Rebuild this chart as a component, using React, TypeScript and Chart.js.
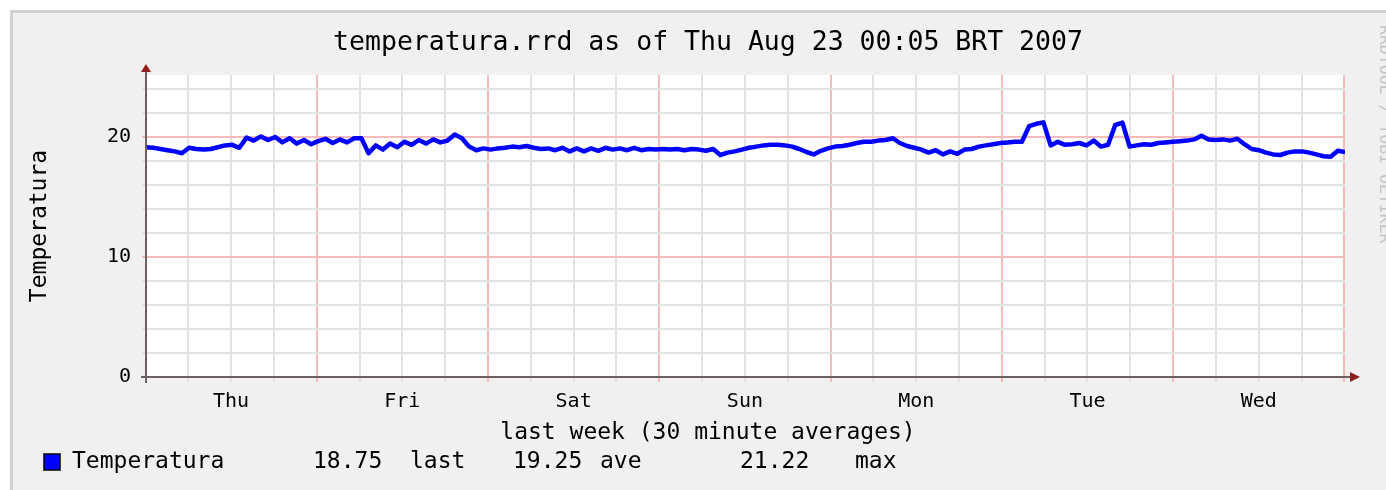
import React, { useEffect, useRef } from 'react';
import { Chart, registerables } from 'chart.js';

Chart.register(...registerables);

const TITLE = 'temperatura.rrd as of Thu Aug 23 00:05 BRT 2007';
const X_TITLE = 'last week (30 minute averages)';
const Y_TITLE = 'Temperatura';
const WATERMARK = 'RRDTOOL / TOBI OETIKER';

const dayLabels = ['Thu', 'Fri', 'Sat', 'Sun', 'Mon', 'Tue', 'Wed'];
const xTickHours = [6, 12, 18, 24, 30, 36, 42, 48, 54, 60, 66, 72, 78, 84, 90, 96, 102, 108, 114, 120, 126, 132, 138, 144, 150, 156, 162, 168];
const yTickValues = [0, 2, 4, 6, 8, 10, 12, 14, 16, 18, 20, 22, 24];
const yLabelValues = [0, 10, 20];

// hourly temperature readings, Thu 00:05 -> Thu 00:05 (one week)
const temperatura = [
  // Thu
  19.15, 19.1, 19.0, 18.9, 18.8, 18.65, 19.1, 19.0, 18.95, 19.0, 19.15, 19.3,
  19.35, 19.1, 19.95, 19.7, 20.05, 19.75, 20.0, 19.55, 19.9, 19.45, 19.75, 19.4,
  // Fri
  19.65, 19.85, 19.5, 19.8, 19.55, 19.9, 19.9, 18.65, 19.3, 18.95, 19.45, 19.15,
  19.6, 19.35, 19.75, 19.45, 19.8, 19.55, 19.7, 20.2, 19.9, 19.2, 18.9, 19.05,
  // Sat
  18.95, 19.05, 19.1, 19.2, 19.15, 19.25, 19.1, 19.0, 19.05, 18.9, 19.1, 18.8,
  19.05, 18.8, 19.05, 18.85, 19.1, 18.95, 19.05, 18.9, 19.1, 18.9, 19.0, 18.95,
  // Sun
  19.0, 18.95, 19.0, 18.9, 19.0, 18.95, 18.85, 19.0, 18.5, 18.7, 18.8, 18.95,
  19.1, 19.2, 19.3, 19.35, 19.35, 19.3, 19.2, 19.0, 18.75, 18.55, 18.85, 19.05,
  // Mon
  19.2, 19.25, 19.35, 19.5, 19.6, 19.6, 19.7, 19.75, 19.9, 19.5, 19.25, 19.1,
  18.95, 18.7, 18.9, 18.55, 18.8, 18.6, 18.95, 19.0, 19.2, 19.3, 19.4, 19.5,
  // Tue
  19.55, 19.6, 19.6, 20.9, 21.1, 21.22, 19.3, 19.6, 19.35, 19.4, 19.5, 19.3,
  19.7, 19.2, 19.35, 21.0, 21.2, 19.2, 19.3, 19.4, 19.35, 19.5, 19.55, 19.6,
  // Wed
  19.65, 19.7, 19.8, 20.1, 19.8, 19.75, 19.8, 19.7, 19.85, 19.4, 19.0, 18.9,
  18.7, 18.55, 18.5, 18.7, 18.8, 18.8, 18.7, 18.55, 18.4, 18.35, 18.85, 18.75,
];

const legendName = 'Temperatura';
const legendValues = ['18.75', '19.25', '21.22'];
const legendKinds = ['last', 'ave', 'max'];

const START_HOUR = 5 / 60;
const END_HOUR = 168 + 5 / 60;

const MONO = '"DejaVu Sans Mono", monospace';
const W = 1386;
const H = 490;

const GRID_GRAY = '#E2E2E2';
const GRID_RED = '#F4BBBB';
const AXIS = '#6C6060';
const ARROW = '#8E1E1E';

const decor = {
  id: 'rrdDecor',
  beforeDraw(chart: any) {
    const { ctx, chartArea: ca } = chart;
    ctx.save();
    ctx.fillStyle = '#FFFFFF';
    ctx.fillRect(0, 0, W, H);
    ctx.fillStyle = '#D0D0D0';
    ctx.fillRect(10, 10, W - 10, H - 10);
    ctx.fillStyle = '#F0F0F0';
    ctx.fillRect(13, 13, W - 13, H - 13);
    ctx.fillStyle = '#FFFFFF';
    ctx.fillRect(ca.left, ca.top, ca.right - ca.left, ca.bottom - ca.top);
    ctx.restore();
  },
  afterDraw(chart: any) {
    const { ctx, chartArea: ca } = chart;
    ctx.save();
    // axes
    ctx.strokeStyle = AXIS;
    ctx.lineWidth = 2;
    ctx.beginPath();
    ctx.moveTo(ca.left, ca.bottom + 6);
    ctx.lineTo(ca.left, ca.top - 4);
    ctx.moveTo(ca.left - 5, ca.bottom);
    ctx.lineTo(ca.right + 7, ca.bottom);
    ctx.stroke();
    // arrows
    ctx.fillStyle = ARROW;
    ctx.beginPath();
    ctx.moveTo(ca.left, ca.top - 11);
    ctx.lineTo(ca.left - 5, ca.top - 3);
    ctx.lineTo(ca.left + 5, ca.top - 3);
    ctx.closePath();
    ctx.fill();
    ctx.beginPath();
    ctx.moveTo(ca.right + 15, ca.bottom);
    ctx.lineTo(ca.right + 5, ca.bottom - 5);
    ctx.lineTo(ca.right + 5, ca.bottom + 5);
    ctx.closePath();
    ctx.fill();

    // legend
    const ly = 462;
    ctx.fillStyle = '#0000FF';
    ctx.fillRect(44, 454, 16, 16);
    ctx.strokeStyle = '#000000';
    ctx.lineWidth = 1.5;
    ctx.strokeRect(44, 454, 16, 16);
    ctx.fillStyle = '#000000';
    ctx.font = `23px ${MONO}`;
    ctx.textBaseline = 'middle';
    ctx.textAlign = 'left';
    ctx.fillText(legendName, 72, ly);
    const valX = [313, 513, 740];
    const kindX = [410, 600, 855];
    legendValues.forEach((v, i) => ctx.fillText(v, valX[i], ly));
    legendKinds.forEach((k, i) => ctx.fillText(k, kindX[i], ly));

    // watermark
    ctx.translate(1384, 25);
    ctx.rotate(Math.PI / 2);
    ctx.fillStyle = '#C4C4C4';
    ctx.font = `16.5px ${MONO}`;
    ctx.textBaseline = 'middle';
    ctx.fillText(WATERMARK, 0, 0);
    ctx.restore();
  },
};

export default function App() {
  const ref = useRef<HTMLCanvasElement | null>(null);

  useEffect(() => {
    const canvas = ref.current;
    if (!canvas) return;
    const step = (END_HOUR - START_HOUR) / (temperatura.length - 1);
    const points = temperatura.map((v, i) => ({ x: START_HOUR + i * step, y: v }));

    const chart = new Chart(canvas, {
      type: 'line',
      data: {
        datasets: [
          {
            label: legendName,
            data: points,
            borderColor: '#0000FF',
            backgroundColor: '#0000FF',
            borderWidth: 4.5,
            pointRadius: 0,
            tension: 0,
            fill: false,
            borderJoinStyle: 'round',
          },
        ],
      },
      options: {
        animation: false,
        responsive: false,
        maintainAspectRatio: false,
        layout: { padding: { left: 71, right: 41, top: 0, bottom: 0 } },
        plugins: {
          legend: { display: false },
          tooltip: { enabled: false },
          title: {
            display: true,
            text: TITLE,
            color: '#000000',
            font: { family: MONO, size: 26.5, weight: 'normal' },
            padding: { top: 27.1, bottom: 16.1 },
            fullSize: true,
          },
          subtitle: {
            display: true,
            position: 'bottom',
            text: X_TITLE,
            color: '#000000',
            font: { family: MONO, size: 23, weight: 'normal' },
            padding: { top: 6.2, bottom: 43.2 },
            fullSize: true,
          },
        },
        scales: {
          x: {
            type: 'linear',
            min: START_HOUR,
            max: END_HOUR,
            afterBuildTicks: (s: any) => {
              s.ticks = xTickHours.map((v) => ({ value: v }));
            },
            afterFit: (s: any) => {
              s.height = 36;
            },
            ticks: {
              stepSize: 6,
              autoSkip: false,
              maxRotation: 0,
              minRotation: 0,
              padding: 8,
              color: '#000000',
              font: { family: MONO, size: 20 },
              callback: (value: any) => {
                const v = Number(value);
                return v % 24 === 12 ? dayLabels[(v - 12) / 24] : '';
              },
            },
            grid: {
              color: (c: any) => (c.tick && c.tick.value % 24 === 0 ? GRID_RED : GRID_GRAY),
              lineWidth: 2,
              tickLength: 5,
              drawTicks: true,
            },
            border: { display: false },
          },
          y: {
            type: 'linear',
            min: 0,
            max: 302 / 12,
            afterBuildTicks: (s: any) => {
              s.ticks = yTickValues.map((v) => ({ value: v }));
            },
            afterFit: (s: any) => {
              s.width = 75;
            },
            ticks: {
              stepSize: 2,
              autoSkip: false,
              padding: 11,
              color: '#000000',
              font: { family: MONO, size: 20 },
              callback: (value: any) => (yLabelValues.includes(Number(value)) ? String(value) : ''),
            },
            grid: {
              color: (c: any) => (c.tick && c.tick.value % 10 === 0 ? GRID_RED : GRID_GRAY),
              lineWidth: 2,
              tickLength: 4,
              drawTicks: true,
            },
            border: { display: false },
            title: {
              display: true,
              text: Y_TITLE,
              color: '#000000',
              font: { family: MONO, size: 23, weight: 'normal' },
              padding: { top: -44.6, bottom: 0 },
            },
          },
        },
      },
      plugins: [decor],
    } as any);

    return () => chart.destroy();
  }, []);

  return (
    <div style={{ position: 'absolute', left: 0, top: 0, width: W, height: H, overflow: 'hidden', background: '#FFFFFF' }}>
      <canvas ref={ref} width={W} height={H} style={{ display: 'block', width: W, height: H }} />
    </div>
  );
}
